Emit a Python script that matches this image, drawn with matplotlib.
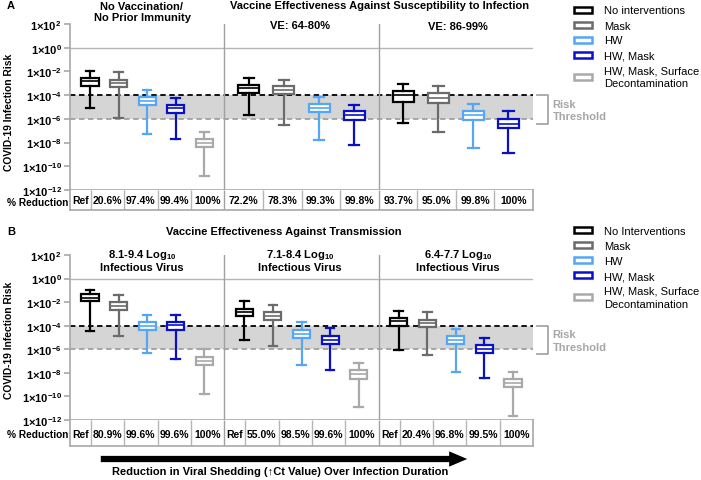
import numpy as np
import matplotlib
matplotlib.use("Agg")
import matplotlib.pyplot as plt
import matplotlib.transforms as mtransforms
from matplotlib.patches import Patch, FancyArrowPatch

plt.rcParams['font.family'] = ['Liberation Sans', 'DejaVu Sans']
plt.rcParams['font.size'] = 8
plt.rcParams['mathtext.fontset'] = 'custom'
plt.rcParams['mathtext.rm'] = 'Liberation Sans'
plt.rcParams['mathtext.bf'] = 'Liberation Sans:bold'
plt.rcParams['mathtext.it'] = 'Liberation Sans:italic'

# data (log10 of infection risk)
series_names = ["No interventions", "Mask", "HW", "HW, Mask", "HW, Mask, Surface\nDecontamination"]
series_names_b = ["No Interventions", "Mask", "HW", "HW, Mask", "HW, Mask, Surface\nDecontamination"]
series_colors = ["#000000", "#6b6b6b", "#55a7f5", "#0a10c8", "#a9a9a9"]

# panel A: vaccine effectiveness against susceptibility
a_whislo = [[-5.10, -5.94, -7.29, -7.66, -10.83], [-5.71, -6.51, -7.80, -8.23], [-6.34, -7.09, -8.49, -8.86]]
a_q1 = [[-3.20, -3.34, -4.83, -5.49, -8.40], [-3.83, -3.94, -5.46, -6.06], [-4.54, -4.63, -6.11, -6.80]]
a_med = [[-2.83, -2.97, -4.49, -5.11, -8.06], [-3.40, -3.54, -5.06, -5.71], [-3.97, -4.20, -5.71, -6.40]]
a_q3 = [[-2.54, -2.69, -4.14, -4.83, -7.71], [-3.11, -3.26, -4.71, -5.37], [-3.69, -3.83, -5.34, -6.00]]
a_whishi = [[-1.97, -2.06, -3.57, -4.20, -7.09], [-2.54, -2.69, -4.17, -4.80], [-3.06, -3.20, -4.71, -5.34]]
a_reduction = [["Ref", "20.6%", "97.4%", "99.4%", "100%"],
               ["72.2%", "78.3%", "99.3%", "99.8%"],
               ["93.7%", "95.0%", "99.8%", "100%"]]

# panel B: vaccine effectiveness against transmission
b_whislo = [[-4.43, -4.91, -6.31, -6.80, -9.83], [-5.20, -5.71, -7.31, -7.77, -10.86], [-6.06, -6.49, -7.91, -8.40, -11.63]]
b_q1 = [[-1.91, -2.63, -4.40, -4.34, -7.34], [-3.20, -3.54, -5.03, -5.54, -8.49], [-4.00, -4.14, -5.54, -6.29, -9.20]]
b_med = [[-1.63, -2.29, -4.00, -3.91, -6.97], [-2.83, -3.20, -4.69, -5.20, -8.11], [-3.63, -3.77, -5.20, -5.97, -8.86]]
b_q3 = [[-1.34, -1.97, -3.69, -3.69, -6.69], [-2.54, -2.83, -4.34, -4.91, -7.77], [-3.34, -3.49, -4.86, -5.63, -8.49]]
b_whishi = [[-0.97, -1.37, -3.06, -3.06, -6.00], [-1.91, -2.20, -3.71, -4.23, -7.20], [-2.71, -2.83, -4.26, -5.00, -7.91]]
b_reduction = [["Ref", "80.9%", "99.6%", "99.6%", "100%"],
               ["Ref", "55.0%", "98.5%", "99.6%", "100%"],
               ["Ref", "20.4%", "96.8%", "99.5%", "100%"]]

ytick_exp = [2, 0, -2, -4, -6, -8, -10, -12]

W, H = 701, 481
fig = plt.figure(figsize=(W / 100, H / 100), dpi=100)

def fx(x):
    return x / W

def fy(y):
    return 1 - y / H

def ftext(x, y, s, **kw):
    kw.setdefault('fontweight', 'bold')
    kw.setdefault('ha', 'center')
    kw.setdefault('va', 'center')
    fig.text(fx(x), fy(y), s, **kw)

line_gray = "#a8a8a8"

def draw_panel(top, bot, tab_bot, whislo, q1, med, q3, whishi, reductions):
    ax = fig.add_axes([fx(70), fy(bot), (533 - 70) / W, (bot - top) / H])
    tab = fig.add_axes([fx(70), fy(tab_bot), (533 - 70) / W, (tab_bot - bot) / H])

    ax.set_yscale('log')
    ax.set_ylim(1e-12, 1e2)
    ax.set_xlim(0, 3)

    # risk band and thresholds
    ax.axhspan(1e-6, 1e-4, color="#d5d5d5", zorder=0, lw=0)
    ax.axhline(1e-4, color="black", ls=(0, (3, 2)), lw=1.3, zorder=1)
    ax.axhline(1e-6, color="#a0a0a0", ls=(0, (3, 2)), lw=1.3, zorder=1)
    ax.axhline(1, color="#b5b5b5", lw=1, zorder=1)
    for g in (1, 2):
        ax.axvline(g, color="#a0a0a0", lw=1, zorder=1)

    for g in range(3):
        n = len(med[g])
        step = 1 / (n + 0.4)
        for i in range(n):
            c = series_colors[i]
            st = dict(whislo=10 ** whislo[g][i], q1=10 ** q1[g][i], med=10 ** med[g][i],
                      q3=10 ** q3[g][i], whishi=10 ** whishi[g][i], fliers=[])
            ax.bxp([st], positions=[g + (i + 0.7) * step], widths=0.6 * step,
                   capwidths=[0.3 * step], showfliers=False, patch_artist=True,
                   manage_ticks=False,
                   boxprops=dict(facecolor="white", edgecolor=c, lw=1.6),
                   whiskerprops=dict(color=c, lw=1.6),
                   capprops=dict(color=c, lw=1.6),
                   medianprops=dict(color=c, lw=1.2))

    for s in ("top", "right"):
        ax.spines[s].set_visible(False)
    for s in ("left", "bottom"):
        ax.spines[s].set_color(line_gray)
        ax.spines[s].set_linewidth(1.2)
    ax.set_xticks([])
    ax.set_yticks([10.0 ** e for e in ytick_exp])
    ax.set_yticklabels(['1×10$^{\\mathbf{%d}}$' % e for e in ytick_exp], fontweight='bold', fontsize=8)
    ax.yaxis.set_minor_locator(matplotlib.ticker.NullLocator())
    ax.tick_params(axis='y', length=4, color=line_gray, width=1.2, pad=2)

    # risk threshold bracket
    tr = mtransforms.blended_transform_factory(ax.transAxes, ax.transData)
    ax.plot([1.009, 1.032, 1.032, 1.009], [1e-4, 1e-4, 10 ** -6.4, 10 ** -6.4],
            transform=tr, color="#a6a6a6", lw=1.3, clip_on=False)
    ax.text(1.042, 10 ** -5.25, "Risk\nThreshold", transform=tr, color="#a6a6a6",
            fontweight='bold', ha='left', va='center', fontsize=8, linespacing=1.3)

    # reduction table
    tab.set_xlim(0, 3)
    tab.set_ylim(0, 1)
    tab.set_xticks([])
    tab.set_yticks([])
    tab.spines["top"].set_visible(False)
    for s in ("left", "right", "bottom"):
        tab.spines[s].set_color(line_gray)
        tab.spines[s].set_linewidth(1.2)
    for g in range(3):
        labels = reductions[g]
        if labels[0] == "Ref":
            edges = g + np.array([0, 0.135, 0.351, 0.567, 0.784, 1.0])
        else:
            edges = g + np.linspace(0, 1, len(labels) + 1)
        tab.vlines(edges[1:-1], 0, 1, color="#b5b5b5", lw=1)
        if g > 0:
            tab.vlines([g], 0, 1, color="#a0a0a0", lw=1)
        for k, lab in enumerate(labels):
            tab.text((edges[k] + edges[k + 1]) / 2, 0.48, lab, ha='center', va='center',
                     fontweight='bold', fontsize=7.5)
    return ax

axA = draw_panel(25, 191, 211, a_whislo, a_q1, a_med, a_q3, a_whishi, a_reduction)
axB = draw_panel(256, 421, 447, b_whislo, b_q1, b_med, b_q3, b_whishi, b_reduction)

# text labels
ftext(7, 6, "A", ha='left')
ftext(7, 232, "B", ha='left')
ftext(142, 12.5, "No Vaccination/\nNo Prior Immunity", linespacing=1.2)
ftext(380, 6, "Vaccine Effectiveness Against Susceptibility to Infection")
ftext(300, 26, "VE: 64-80%")
ftext(458, 27, "VE: 86-99%")
ftext(284, 232, "Vaccine Effectiveness Against Transmission")
for xc, s in [(142, "8.1-9.4"), (300, "7.1-8.4"), (458, "6.4-7.7")]:
    ftext(xc, 260.5, s + " Log$_{\\mathbf{10}}$\nInfectious Virus", linespacing=1.2)
ftext(9, 112, "COVID-19 Infection Risk", rotation=90, fontsize=7.4)
ftext(9, 340, "COVID-19 Infection Risk", rotation=90, fontsize=7.4)
ftext(7, 202.5, "% Reduction", ha='left', fontsize=7.3)
ftext(7, 435, "% Reduction", ha='left', fontsize=7.3)

# legends
def make_legend(names, anchor_y):
    handles = [Patch(facecolor="white", edgecolor=c, lw=1.8) for c in series_colors]
    leg = fig.legend(handles, names, loc='upper left', bbox_to_anchor=(fx(574), fy(anchor_y)),
                     frameon=False, handlelength=1.6, handleheight=0.45, handletextpad=1.1,
                     labelspacing=0.45, borderaxespad=0, borderpad=0, fontsize=8)
    for t in leg.get_texts():
        t.set_linespacing(1.35)

make_legend(series_names, 6.5)
make_legend(series_names_b, 227)

# bottom arrow
arrow = FancyArrowPatch((fx(98), fy(460)), (fx(470), fy(460)), transform=fig.transFigure,
                        arrowstyle='simple,tail_width=0.45,head_width=1.1,head_length=1.3',
                        mutation_scale=10, color="black", lw=0)
fig.add_artist(arrow)
ftext(280, 472.5, "Reduction in Viral Shedding (\u2191Ct Value) Over Infection Duration")

fig.savefig("out.png", dpi=100)
